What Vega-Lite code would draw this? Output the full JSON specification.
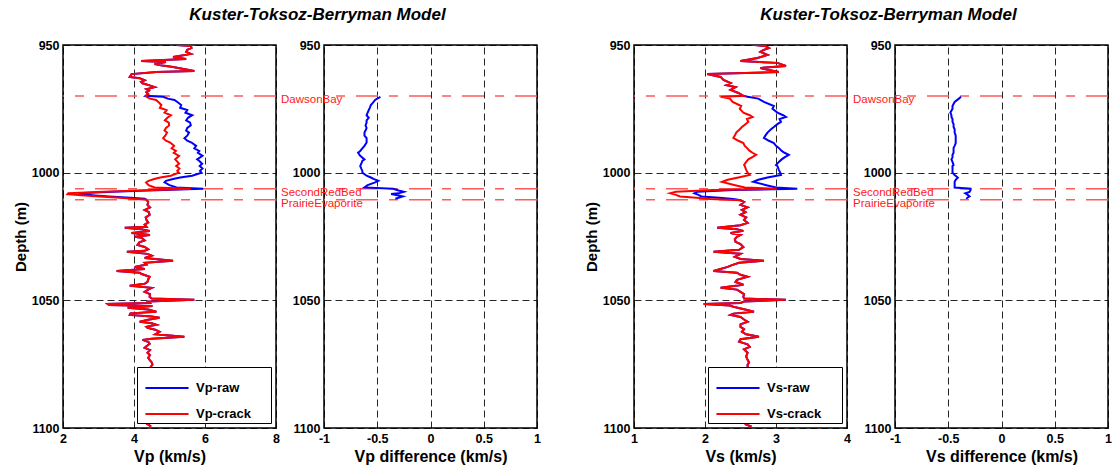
{
  "$schema": "https://vega.github.io/schema/vega-lite/v6.json",
  "padding": {"left": 12, "top": 5, "right": 0, "bottom": 0},
  "bounds": "flush",
  "spacing": 48,
  "config": {
    "font": "Liberation Sans",
    "view": {"stroke": "#000000", "strokeWidth": 1.5},
    "axis": {
      "labelFont": "Liberation Sans", "labelFontWeight": "bold", "labelFontSize": 12.5, "labelColor": "#000000",
      "titleFont": "Liberation Sans", "titleFontWeight": "bold", "titleFontSize": 15, "titleColor": "#000000",
      "domain": false, "ticks": false, "grid": true, "gridColor": "#000000", "gridDash": [7, 4], "gridWidth": 1, "gridOpacity": 0.85,
      "labelFlush": false, "labelPadding": 4
    },
    "axisY": {"titlePadding": 3, "format": "d"},
    "axisX": {"titlePadding": 4, "titleFontSize": 16},
    "legend": {
      "orient": "bottom-right", "offset": 5, "strokeColor": "#000000", "fillColor": "#ffffff", "padding": 2,
      "symbolType": "M-1.22,0H1.22", "symbolSize": 1250, "symbolStrokeWidth": 2, "symbolOffset": 9, "rowPadding": 0,
      "labelFont": "Liberation Sans", "labelFontSize": 13, "labelFontWeight": "bold", "labelColor": "#000000", "labelOffset": 10,
      "title": null
    },
    "title": {"font": "Liberation Sans", "fontSize": 17, "fontWeight": "bold", "fontStyle": "italic", "color": "#000000", "anchor": "middle", "frame": "group", "dx": 148, "offset": 15}
  },
  "datasets": {
    "tops": [
      {"top": "DawsonBay", "d": 970.0},
      {"top": "SecondRedBed", "d": 1006.3},
      {"top": "PrairieEvaporite", "d": 1010.6}
    ],
    "vp": [
      {"d": 950.0, "Vp-raw": 5.2, "Vp-crack": 5.2},
      {"d": 950.4, "Vp-raw": 5.6, "Vp-crack": 5.6},
      {"d": 951.2, "Vp-raw": 5.62, "Vp-crack": 5.62},
      {"d": 951.9, "Vp-raw": 5.5, "Vp-crack": 5.5},
      {"d": 952.7, "Vp-raw": 5.47, "Vp-crack": 5.47},
      {"d": 953.5, "Vp-raw": 5.6, "Vp-crack": 5.6},
      {"d": 954.1, "Vp-raw": 5.35, "Vp-crack": 5.35},
      {"d": 954.7, "Vp-raw": 5.1, "Vp-crack": 5.1},
      {"d": 955.5, "Vp-raw": 5.47, "Vp-crack": 5.47},
      {"d": 956.3, "Vp-raw": 4.2, "Vp-crack": 4.2},
      {"d": 956.7, "Vp-raw": 4.9, "Vp-crack": 4.9},
      {"d": 957.4, "Vp-raw": 4.58, "Vp-crack": 4.58},
      {"d": 958.0, "Vp-raw": 4.8, "Vp-crack": 4.8},
      {"d": 958.6, "Vp-raw": 5.1, "Vp-crack": 5.1},
      {"d": 959.4, "Vp-raw": 5.4, "Vp-crack": 5.4},
      {"d": 960.2, "Vp-raw": 5.7, "Vp-crack": 5.7},
      {"d": 960.6, "Vp-raw": 4.63, "Vp-crack": 4.63},
      {"d": 961.4, "Vp-raw": 3.93, "Vp-crack": 3.93},
      {"d": 962.5, "Vp-raw": 3.88, "Vp-crack": 3.88},
      {"d": 963.0, "Vp-raw": 4.16, "Vp-crack": 4.16},
      {"d": 963.8, "Vp-raw": 4.3, "Vp-crack": 4.3},
      {"d": 964.4, "Vp-raw": 4.2, "Vp-crack": 4.2},
      {"d": 965.0, "Vp-raw": 4.24, "Vp-crack": 4.24},
      {"d": 965.8, "Vp-raw": 4.44, "Vp-crack": 4.44},
      {"d": 966.5, "Vp-raw": 4.58, "Vp-crack": 4.58},
      {"d": 967.3, "Vp-raw": 4.35, "Vp-crack": 4.35},
      {"d": 967.9, "Vp-raw": 4.42, "Vp-crack": 4.42},
      {"d": 968.5, "Vp-raw": 4.35, "Vp-crack": 4.35},
      {"d": 969.2, "Vp-raw": 4.4, "Vp-crack": 4.4},
      {"d": 969.9, "Vp-raw": 4.33, "Vp-crack": 4.33},
      {"d": 970.3, "Vp-raw": 4.82, "Vp-crack": 4.35},
      {"d": 971.0, "Vp-raw": 4.95, "Vp-crack": 4.45},
      {"d": 971.5, "Vp-raw": 5.14, "Vp-crack": 4.62},
      {"d": 972.6, "Vp-raw": 5.25, "Vp-crack": 4.71},
      {"d": 973.5, "Vp-raw": 5.33, "Vp-crack": 4.77},
      {"d": 974.6, "Vp-raw": 5.3, "Vp-crack": 4.73},
      {"d": 975.5, "Vp-raw": 5.5, "Vp-crack": 4.92},
      {"d": 976.5, "Vp-raw": 5.45, "Vp-crack": 4.86},
      {"d": 977.5, "Vp-raw": 5.64, "Vp-crack": 5.04},
      {"d": 978.5, "Vp-raw": 5.52, "Vp-crack": 4.94},
      {"d": 979.5, "Vp-raw": 5.47, "Vp-crack": 4.87},
      {"d": 980.4, "Vp-raw": 5.58, "Vp-crack": 4.98},
      {"d": 981.5, "Vp-raw": 5.6, "Vp-crack": 4.99},
      {"d": 982.5, "Vp-raw": 5.5, "Vp-crack": 4.9},
      {"d": 983.5, "Vp-raw": 5.47, "Vp-crack": 4.86},
      {"d": 984.3, "Vp-raw": 5.55, "Vp-crack": 4.93},
      {"d": 985.5, "Vp-raw": 5.5, "Vp-crack": 4.88},
      {"d": 986.5, "Vp-raw": 5.42, "Vp-crack": 4.82},
      {"d": 987.5, "Vp-raw": 5.5, "Vp-crack": 4.9},
      {"d": 988.2, "Vp-raw": 5.62, "Vp-crack": 5.02},
      {"d": 989.5, "Vp-raw": 5.75, "Vp-crack": 5.13},
      {"d": 990.5, "Vp-raw": 5.7, "Vp-crack": 5.06},
      {"d": 991.5, "Vp-raw": 5.84, "Vp-crack": 5.18},
      {"d": 992.2, "Vp-raw": 5.8, "Vp-crack": 5.12},
      {"d": 993.4, "Vp-raw": 5.93, "Vp-crack": 5.27},
      {"d": 994.8, "Vp-raw": 5.78, "Vp-crack": 5.16},
      {"d": 995.4, "Vp-raw": 5.84, "Vp-crack": 5.2},
      {"d": 996.5, "Vp-raw": 5.92, "Vp-crack": 5.27},
      {"d": 997.4, "Vp-raw": 5.85, "Vp-crack": 5.19},
      {"d": 998.4, "Vp-raw": 5.93, "Vp-crack": 5.28},
      {"d": 999.3, "Vp-raw": 5.86, "Vp-crack": 5.22},
      {"d": 1000.0, "Vp-raw": 5.9, "Vp-crack": 5.26},
      {"d": 1001.2, "Vp-raw": 5.64, "Vp-crack": 5.04},
      {"d": 1001.9, "Vp-raw": 5.3, "Vp-crack": 4.74},
      {"d": 1002.5, "Vp-raw": 5.1, "Vp-crack": 4.57},
      {"d": 1003.2, "Vp-raw": 4.9, "Vp-crack": 4.41},
      {"d": 1003.8, "Vp-raw": 4.86, "Vp-crack": 4.34},
      {"d": 1004.9, "Vp-raw": 5.0, "Vp-crack": 4.41},
      {"d": 1005.8, "Vp-raw": 5.2, "Vp-crack": 4.58},
      {"d": 1006.3, "Vp-raw": 5.95, "Vp-crack": 5.6},
      {"d": 1007.0, "Vp-raw": 4.4, "Vp-crack": 4.1},
      {"d": 1007.5, "Vp-raw": 3.4, "Vp-crack": 3.15},
      {"d": 1008.1, "Vp-raw": 2.45, "Vp-crack": 2.15},
      {"d": 1008.4, "Vp-raw": 2.5, "Vp-crack": 2.13},
      {"d": 1008.9, "Vp-raw": 2.9, "Vp-crack": 2.6},
      {"d": 1009.3, "Vp-raw": 3.3, "Vp-crack": 3.04},
      {"d": 1009.8, "Vp-raw": 3.9, "Vp-crack": 3.6},
      {"d": 1010.2, "Vp-raw": 4.3, "Vp-crack": 3.97},
      {"d": 1010.6, "Vp-raw": 4.35, "Vp-crack": 4.35},
      {"d": 1011.5, "Vp-raw": 4.4, "Vp-crack": 4.4},
      {"d": 1012.6, "Vp-raw": 4.38, "Vp-crack": 4.38},
      {"d": 1013.6, "Vp-raw": 4.45, "Vp-crack": 4.45},
      {"d": 1014.6, "Vp-raw": 4.3, "Vp-crack": 4.3},
      {"d": 1015.5, "Vp-raw": 4.42, "Vp-crack": 4.42},
      {"d": 1016.5, "Vp-raw": 4.44, "Vp-crack": 4.44},
      {"d": 1017.5, "Vp-raw": 4.33, "Vp-crack": 4.33},
      {"d": 1018.5, "Vp-raw": 4.35, "Vp-crack": 4.35},
      {"d": 1019.5, "Vp-raw": 4.4, "Vp-crack": 4.4},
      {"d": 1020.4, "Vp-raw": 4.3, "Vp-crack": 4.3},
      {"d": 1021.2, "Vp-raw": 4.35, "Vp-crack": 4.35},
      {"d": 1021.6, "Vp-raw": 3.74, "Vp-crack": 3.74},
      {"d": 1022.2, "Vp-raw": 4.2, "Vp-crack": 4.2},
      {"d": 1022.8, "Vp-raw": 4.44, "Vp-crack": 4.44},
      {"d": 1023.6, "Vp-raw": 3.93, "Vp-crack": 3.93},
      {"d": 1024.4, "Vp-raw": 4.45, "Vp-crack": 4.45},
      {"d": 1025.1, "Vp-raw": 4.02, "Vp-crack": 4.02},
      {"d": 1025.5, "Vp-raw": 4.21, "Vp-crack": 4.21},
      {"d": 1026.5, "Vp-raw": 4.3, "Vp-crack": 4.3},
      {"d": 1027.3, "Vp-raw": 4.15, "Vp-crack": 4.15},
      {"d": 1028.3, "Vp-raw": 4.1, "Vp-crack": 4.1},
      {"d": 1029.1, "Vp-raw": 4.3, "Vp-crack": 4.3},
      {"d": 1030.0, "Vp-raw": 4.4, "Vp-crack": 4.4},
      {"d": 1030.6, "Vp-raw": 4.3, "Vp-crack": 4.3},
      {"d": 1031.0, "Vp-raw": 3.8, "Vp-crack": 3.8},
      {"d": 1031.8, "Vp-raw": 4.38, "Vp-crack": 4.38},
      {"d": 1032.5, "Vp-raw": 4.5, "Vp-crack": 4.5},
      {"d": 1033.4, "Vp-raw": 4.3, "Vp-crack": 4.3},
      {"d": 1034.5, "Vp-raw": 5.1, "Vp-crack": 5.1},
      {"d": 1035.3, "Vp-raw": 4.3, "Vp-crack": 4.3},
      {"d": 1036.0, "Vp-raw": 4.35, "Vp-crack": 4.35},
      {"d": 1036.9, "Vp-raw": 4.02, "Vp-crack": 4.02},
      {"d": 1037.7, "Vp-raw": 4.3, "Vp-crack": 4.3},
      {"d": 1038.5, "Vp-raw": 3.51, "Vp-crack": 3.51},
      {"d": 1039.2, "Vp-raw": 4.16, "Vp-crack": 4.16},
      {"d": 1039.6, "Vp-raw": 4.2, "Vp-crack": 4.2},
      {"d": 1040.8, "Vp-raw": 4.44, "Vp-crack": 4.44},
      {"d": 1041.8, "Vp-raw": 4.4, "Vp-crack": 4.4},
      {"d": 1042.8, "Vp-raw": 4.38, "Vp-crack": 4.38},
      {"d": 1043.5, "Vp-raw": 4.3, "Vp-crack": 4.3},
      {"d": 1044.3, "Vp-raw": 3.88, "Vp-crack": 3.88},
      {"d": 1045.1, "Vp-raw": 4.5, "Vp-crack": 4.5},
      {"d": 1045.8, "Vp-raw": 4.4, "Vp-crack": 4.4},
      {"d": 1046.7, "Vp-raw": 4.3, "Vp-crack": 4.3},
      {"d": 1047.6, "Vp-raw": 4.45, "Vp-crack": 4.45},
      {"d": 1048.6, "Vp-raw": 4.44, "Vp-crack": 4.44},
      {"d": 1049.3, "Vp-raw": 4.5, "Vp-crack": 4.5},
      {"d": 1049.8, "Vp-raw": 5.7, "Vp-crack": 5.7},
      {"d": 1050.5, "Vp-raw": 4.4, "Vp-crack": 4.4},
      {"d": 1051.0, "Vp-raw": 4.44, "Vp-crack": 4.44},
      {"d": 1051.4, "Vp-raw": 3.26, "Vp-crack": 3.26},
      {"d": 1051.8, "Vp-raw": 3.3, "Vp-crack": 3.3},
      {"d": 1052.2, "Vp-raw": 4.52, "Vp-crack": 4.52},
      {"d": 1052.9, "Vp-raw": 3.82, "Vp-crack": 3.82},
      {"d": 1053.6, "Vp-raw": 4.4, "Vp-crack": 4.4},
      {"d": 1054.5, "Vp-raw": 4.63, "Vp-crack": 4.63},
      {"d": 1055.1, "Vp-raw": 3.9, "Vp-crack": 3.9},
      {"d": 1055.7, "Vp-raw": 3.88, "Vp-crack": 3.88},
      {"d": 1056.3, "Vp-raw": 4.5, "Vp-crack": 4.5},
      {"d": 1056.8, "Vp-raw": 4.72, "Vp-crack": 4.72},
      {"d": 1057.6, "Vp-raw": 4.4, "Vp-crack": 4.4},
      {"d": 1058.4, "Vp-raw": 4.16, "Vp-crack": 4.16},
      {"d": 1059.0, "Vp-raw": 4.5, "Vp-crack": 4.5},
      {"d": 1059.6, "Vp-raw": 4.63, "Vp-crack": 4.63},
      {"d": 1060.4, "Vp-raw": 4.35, "Vp-crack": 4.35},
      {"d": 1060.8, "Vp-raw": 4.38, "Vp-crack": 4.38},
      {"d": 1061.5, "Vp-raw": 4.6, "Vp-crack": 4.6},
      {"d": 1062.3, "Vp-raw": 4.72, "Vp-crack": 4.72},
      {"d": 1063.3, "Vp-raw": 4.6, "Vp-crack": 4.6},
      {"d": 1064.3, "Vp-raw": 5.42, "Vp-crack": 5.42},
      {"d": 1065.0, "Vp-raw": 4.5, "Vp-crack": 4.5},
      {"d": 1065.5, "Vp-raw": 4.24, "Vp-crack": 4.24},
      {"d": 1066.2, "Vp-raw": 4.4, "Vp-crack": 4.4},
      {"d": 1067.0, "Vp-raw": 4.44, "Vp-crack": 4.44},
      {"d": 1068.0, "Vp-raw": 4.35, "Vp-crack": 4.35},
      {"d": 1068.6, "Vp-raw": 4.3, "Vp-crack": 4.3},
      {"d": 1069.5, "Vp-raw": 4.45, "Vp-crack": 4.45},
      {"d": 1070.5, "Vp-raw": 4.38, "Vp-crack": 4.38},
      {"d": 1071.5, "Vp-raw": 4.45, "Vp-crack": 4.45},
      {"d": 1072.5, "Vp-raw": 4.4, "Vp-crack": 4.4},
      {"d": 1073.3, "Vp-raw": 4.44, "Vp-crack": 4.44},
      {"d": 1074.3, "Vp-raw": 4.5, "Vp-crack": 4.5},
      {"d": 1075.2, "Vp-raw": 4.52, "Vp-crack": 4.52},
      {"d": 1076.5, "Vp-raw": 4.45, "Vp-crack": 4.45},
      {"d": 1078.0, "Vp-raw": 4.4, "Vp-crack": 4.4},
      {"d": 1081.0, "Vp-raw": 4.5, "Vp-crack": 4.5},
      {"d": 1084.0, "Vp-raw": 4.42, "Vp-crack": 4.42},
      {"d": 1087.0, "Vp-raw": 4.48, "Vp-crack": 4.48},
      {"d": 1090.0, "Vp-raw": 4.4, "Vp-crack": 4.4},
      {"d": 1093.0, "Vp-raw": 4.45, "Vp-crack": 4.45},
      {"d": 1096.0, "Vp-raw": 4.4, "Vp-crack": 4.4},
      {"d": 1097.8, "Vp-raw": 4.45, "Vp-crack": 4.45},
      {"d": 1098.5, "Vp-raw": 4.38, "Vp-crack": 4.38},
      {"d": 1099.2, "Vp-raw": 4.46, "Vp-crack": 4.46},
      {"d": 1100.0, "Vp-raw": 4.44, "Vp-crack": 4.44}
    ],
    "dvp": [
      {"d": 970.3, "dVp": -0.47}, {"d": 971.0, "dVp": -0.5}, {"d": 971.5, "dVp": -0.52}, {"d": 972.6, "dVp": -0.54},
      {"d": 973.5, "dVp": -0.56}, {"d": 974.6, "dVp": -0.57}, {"d": 975.5, "dVp": -0.58}, {"d": 976.5, "dVp": -0.59},
      {"d": 977.5, "dVp": -0.6}, {"d": 978.5, "dVp": -0.58}, {"d": 979.5, "dVp": -0.6}, {"d": 980.4, "dVp": -0.6},
      {"d": 981.5, "dVp": -0.61}, {"d": 982.5, "dVp": -0.6}, {"d": 983.5, "dVp": -0.61}, {"d": 984.3, "dVp": -0.62},
      {"d": 985.5, "dVp": -0.62}, {"d": 986.5, "dVp": -0.6}, {"d": 987.5, "dVp": -0.6}, {"d": 988.2, "dVp": -0.6},
      {"d": 989.5, "dVp": -0.62}, {"d": 990.5, "dVp": -0.64}, {"d": 991.5, "dVp": -0.66}, {"d": 992.2, "dVp": -0.68},
      {"d": 993.4, "dVp": -0.66}, {"d": 994.8, "dVp": -0.62}, {"d": 995.4, "dVp": -0.64}, {"d": 996.5, "dVp": -0.65},
      {"d": 997.4, "dVp": -0.66}, {"d": 998.4, "dVp": -0.65}, {"d": 999.3, "dVp": -0.64}, {"d": 1000.0, "dVp": -0.64},
      {"d": 1001.2, "dVp": -0.6}, {"d": 1001.9, "dVp": -0.56}, {"d": 1002.5, "dVp": -0.53}, {"d": 1003.2, "dVp": -0.49},
      {"d": 1003.8, "dVp": -0.52}, {"d": 1004.9, "dVp": -0.59}, {"d": 1005.8, "dVp": -0.62}, {"d": 1006.3, "dVp": -0.35},
      {"d": 1007.0, "dVp": -0.3}, {"d": 1007.5, "dVp": -0.25}, {"d": 1008.1, "dVp": -0.3}, {"d": 1008.4, "dVp": -0.37},
      {"d": 1008.9, "dVp": -0.3}, {"d": 1009.3, "dVp": -0.26}, {"d": 1009.8, "dVp": -0.3}, {"d": 1010.2, "dVp": -0.33}
    ],
    "vs": [
      {"d": 950.0, "Vs-raw": 2.7, "Vs-crack": 2.7},
      {"d": 950.4, "Vs-raw": 2.85, "Vs-crack": 2.85},
      {"d": 951.2, "Vs-raw": 2.9, "Vs-crack": 2.9},
      {"d": 952.0, "Vs-raw": 2.82, "Vs-crack": 2.82},
      {"d": 952.7, "Vs-raw": 2.78, "Vs-crack": 2.78},
      {"d": 953.9, "Vs-raw": 2.88, "Vs-crack": 2.88},
      {"d": 955.1, "Vs-raw": 2.74, "Vs-crack": 2.74},
      {"d": 956.3, "Vs-raw": 2.5, "Vs-crack": 2.5},
      {"d": 957.0, "Vs-raw": 3.02, "Vs-crack": 3.02},
      {"d": 958.2, "Vs-raw": 3.14, "Vs-crack": 3.14},
      {"d": 959.0, "Vs-raw": 2.78, "Vs-crack": 2.78},
      {"d": 959.8, "Vs-raw": 2.9, "Vs-crack": 2.9},
      {"d": 960.6, "Vs-raw": 3.04, "Vs-crack": 3.04},
      {"d": 961.4, "Vs-raw": 2.03, "Vs-crack": 2.03},
      {"d": 962.5, "Vs-raw": 2.22, "Vs-crack": 2.22},
      {"d": 963.7, "Vs-raw": 2.26, "Vs-crack": 2.26},
      {"d": 964.9, "Vs-raw": 2.36, "Vs-crack": 2.36},
      {"d": 965.7, "Vs-raw": 2.3, "Vs-crack": 2.3},
      {"d": 966.5, "Vs-raw": 2.43, "Vs-crack": 2.43},
      {"d": 967.6, "Vs-raw": 2.36, "Vs-crack": 2.36},
      {"d": 968.8, "Vs-raw": 2.47, "Vs-crack": 2.47},
      {"d": 969.9, "Vs-raw": 2.54, "Vs-crack": 2.54},
      {"d": 970.3, "Vs-raw": 2.6, "Vs-crack": 2.22},
      {"d": 971.0, "Vs-raw": 2.75, "Vs-crack": 2.35},
      {"d": 972.3, "Vs-raw": 2.83, "Vs-crack": 2.39},
      {"d": 973.9, "Vs-raw": 2.97, "Vs-crack": 2.51},
      {"d": 975.0, "Vs-raw": 2.95, "Vs-crack": 2.49},
      {"d": 976.5, "Vs-raw": 3.02, "Vs-crack": 2.54},
      {"d": 977.5, "Vs-raw": 3.1, "Vs-crack": 2.63},
      {"d": 978.2, "Vs-raw": 3.14, "Vs-crack": 2.67},
      {"d": 979.0, "Vs-raw": 3.05, "Vs-crack": 2.59},
      {"d": 980.1, "Vs-raw": 3.07, "Vs-crack": 2.61},
      {"d": 981.0, "Vs-raw": 3.02, "Vs-crack": 2.57},
      {"d": 982.1, "Vs-raw": 2.97, "Vs-crack": 2.52},
      {"d": 983.0, "Vs-raw": 2.93, "Vs-crack": 2.49},
      {"d": 984.3, "Vs-raw": 2.88, "Vs-crack": 2.44},
      {"d": 985.5, "Vs-raw": 2.85, "Vs-crack": 2.42},
      {"d": 986.4, "Vs-raw": 2.83, "Vs-crack": 2.4},
      {"d": 987.5, "Vs-raw": 2.9, "Vs-crack": 2.47},
      {"d": 988.4, "Vs-raw": 2.97, "Vs-crack": 2.54},
      {"d": 989.5, "Vs-raw": 3.0, "Vs-crack": 2.56},
      {"d": 990.3, "Vs-raw": 3.04, "Vs-crack": 2.59},
      {"d": 991.5, "Vs-raw": 3.08, "Vs-crack": 2.63},
      {"d": 992.2, "Vs-raw": 3.12, "Vs-crack": 2.67},
      {"d": 993.0, "Vs-raw": 3.18, "Vs-crack": 2.72},
      {"d": 994.0, "Vs-raw": 3.12, "Vs-crack": 2.66},
      {"d": 994.8, "Vs-raw": 3.08, "Vs-crack": 2.61},
      {"d": 995.8, "Vs-raw": 3.04, "Vs-crack": 2.58},
      {"d": 997.0, "Vs-raw": 3.0, "Vs-crack": 2.55},
      {"d": 997.4, "Vs-raw": 3.02, "Vs-crack": 2.56},
      {"d": 998.9, "Vs-raw": 3.04, "Vs-crack": 2.58},
      {"d": 1000.0, "Vs-raw": 3.06, "Vs-crack": 2.6},
      {"d": 1000.9, "Vs-raw": 3.07, "Vs-crack": 2.63},
      {"d": 1001.9, "Vs-raw": 2.88, "Vs-crack": 2.47},
      {"d": 1002.8, "Vs-raw": 2.75, "Vs-crack": 2.32},
      {"d": 1003.6, "Vs-raw": 2.68, "Vs-crack": 2.24},
      {"d": 1004.8, "Vs-raw": 2.85, "Vs-crack": 2.41},
      {"d": 1005.8, "Vs-raw": 3.0, "Vs-crack": 2.56},
      {"d": 1006.3, "Vs-raw": 3.3, "Vs-crack": 3.01},
      {"d": 1006.8, "Vs-raw": 2.4, "Vs-crack": 2.11},
      {"d": 1007.5, "Vs-raw": 1.89, "Vs-crack": 1.59},
      {"d": 1008.1, "Vs-raw": 1.85, "Vs-crack": 1.51},
      {"d": 1008.6, "Vs-raw": 1.9, "Vs-crack": 1.58},
      {"d": 1009.3, "Vs-raw": 1.95, "Vs-crack": 1.65},
      {"d": 1009.8, "Vs-raw": 2.2, "Vs-crack": 1.88},
      {"d": 1010.3, "Vs-raw": 2.4, "Vs-crack": 2.07},
      {"d": 1010.8, "Vs-raw": 2.5, "Vs-crack": 2.5},
      {"d": 1011.5, "Vs-raw": 2.55, "Vs-crack": 2.55},
      {"d": 1012.6, "Vs-raw": 2.5, "Vs-crack": 2.5},
      {"d": 1013.6, "Vs-raw": 2.6, "Vs-crack": 2.6},
      {"d": 1014.6, "Vs-raw": 2.52, "Vs-crack": 2.52},
      {"d": 1015.5, "Vs-raw": 2.57, "Vs-crack": 2.57},
      {"d": 1016.5, "Vs-raw": 2.5, "Vs-crack": 2.5},
      {"d": 1017.5, "Vs-raw": 2.58, "Vs-crack": 2.58},
      {"d": 1018.5, "Vs-raw": 2.55, "Vs-crack": 2.55},
      {"d": 1019.7, "Vs-raw": 2.6, "Vs-crack": 2.6},
      {"d": 1020.6, "Vs-raw": 2.5, "Vs-crack": 2.5},
      {"d": 1021.6, "Vs-raw": 2.17, "Vs-crack": 2.17},
      {"d": 1022.2, "Vs-raw": 2.45, "Vs-crack": 2.45},
      {"d": 1022.8, "Vs-raw": 2.54, "Vs-crack": 2.54},
      {"d": 1023.6, "Vs-raw": 2.36, "Vs-crack": 2.36},
      {"d": 1024.4, "Vs-raw": 2.5, "Vs-crack": 2.5},
      {"d": 1025.1, "Vs-raw": 2.45, "Vs-crack": 2.45},
      {"d": 1026.0, "Vs-raw": 2.42, "Vs-crack": 2.42},
      {"d": 1027.1, "Vs-raw": 2.43, "Vs-crack": 2.43},
      {"d": 1028.0, "Vs-raw": 2.5, "Vs-crack": 2.5},
      {"d": 1029.1, "Vs-raw": 2.54, "Vs-crack": 2.54},
      {"d": 1030.2, "Vs-raw": 2.48, "Vs-crack": 2.48},
      {"d": 1031.0, "Vs-raw": 2.12, "Vs-crack": 2.12},
      {"d": 1031.8, "Vs-raw": 2.5, "Vs-crack": 2.5},
      {"d": 1033.0, "Vs-raw": 2.42, "Vs-crack": 2.42},
      {"d": 1033.8, "Vs-raw": 2.5, "Vs-crack": 2.5},
      {"d": 1034.5, "Vs-raw": 2.83, "Vs-crack": 2.83},
      {"d": 1035.3, "Vs-raw": 2.48, "Vs-crack": 2.48},
      {"d": 1036.2, "Vs-raw": 2.38, "Vs-crack": 2.38},
      {"d": 1036.9, "Vs-raw": 2.32, "Vs-crack": 2.32},
      {"d": 1038.5, "Vs-raw": 2.12, "Vs-crack": 2.12},
      {"d": 1039.2, "Vs-raw": 2.45, "Vs-crack": 2.45},
      {"d": 1040.0, "Vs-raw": 2.5, "Vs-crack": 2.5},
      {"d": 1040.8, "Vs-raw": 2.6, "Vs-crack": 2.6},
      {"d": 1042.0, "Vs-raw": 2.45, "Vs-crack": 2.45},
      {"d": 1042.8, "Vs-raw": 2.43, "Vs-crack": 2.43},
      {"d": 1043.9, "Vs-raw": 2.54, "Vs-crack": 2.54},
      {"d": 1045.1, "Vs-raw": 2.22, "Vs-crack": 2.22},
      {"d": 1045.8, "Vs-raw": 2.45, "Vs-crack": 2.45},
      {"d": 1046.7, "Vs-raw": 2.5, "Vs-crack": 2.5},
      {"d": 1047.6, "Vs-raw": 2.55, "Vs-crack": 2.55},
      {"d": 1048.6, "Vs-raw": 2.54, "Vs-crack": 2.54},
      {"d": 1049.3, "Vs-raw": 2.55, "Vs-crack": 2.55},
      {"d": 1049.8, "Vs-raw": 3.14, "Vs-crack": 3.14},
      {"d": 1050.5, "Vs-raw": 2.55, "Vs-crack": 2.55},
      {"d": 1051.0, "Vs-raw": 2.5, "Vs-crack": 2.5},
      {"d": 1051.4, "Vs-raw": 1.98, "Vs-crack": 1.98},
      {"d": 1052.0, "Vs-raw": 2.35, "Vs-crack": 2.35},
      {"d": 1052.5, "Vs-raw": 2.4, "Vs-crack": 2.4},
      {"d": 1053.5, "Vs-raw": 2.55, "Vs-crack": 2.55},
      {"d": 1054.5, "Vs-raw": 2.69, "Vs-crack": 2.69},
      {"d": 1055.2, "Vs-raw": 2.4, "Vs-crack": 2.4},
      {"d": 1055.7, "Vs-raw": 2.36, "Vs-crack": 2.36},
      {"d": 1056.5, "Vs-raw": 2.5, "Vs-crack": 2.5},
      {"d": 1057.5, "Vs-raw": 2.55, "Vs-crack": 2.55},
      {"d": 1058.4, "Vs-raw": 2.6, "Vs-crack": 2.6},
      {"d": 1059.4, "Vs-raw": 2.5, "Vs-crack": 2.5},
      {"d": 1060.4, "Vs-raw": 2.5, "Vs-crack": 2.5},
      {"d": 1061.3, "Vs-raw": 2.55, "Vs-crack": 2.55},
      {"d": 1062.3, "Vs-raw": 2.52, "Vs-crack": 2.52},
      {"d": 1063.3, "Vs-raw": 2.58, "Vs-crack": 2.58},
      {"d": 1064.3, "Vs-raw": 2.76, "Vs-crack": 2.76},
      {"d": 1065.2, "Vs-raw": 2.5, "Vs-crack": 2.5},
      {"d": 1066.2, "Vs-raw": 2.48, "Vs-crack": 2.48},
      {"d": 1067.2, "Vs-raw": 2.6, "Vs-crack": 2.6},
      {"d": 1068.2, "Vs-raw": 2.63, "Vs-crack": 2.63},
      {"d": 1069.2, "Vs-raw": 2.55, "Vs-crack": 2.55},
      {"d": 1070.5, "Vs-raw": 2.6, "Vs-crack": 2.6},
      {"d": 1072.0, "Vs-raw": 2.58, "Vs-crack": 2.58},
      {"d": 1073.3, "Vs-raw": 2.6, "Vs-crack": 2.6},
      {"d": 1074.3, "Vs-raw": 2.62, "Vs-crack": 2.62},
      {"d": 1075.2, "Vs-raw": 2.6, "Vs-crack": 2.6},
      {"d": 1078.0, "Vs-raw": 2.6, "Vs-crack": 2.6},
      {"d": 1082.0, "Vs-raw": 2.62, "Vs-crack": 2.62},
      {"d": 1086.0, "Vs-raw": 2.58, "Vs-crack": 2.58},
      {"d": 1090.0, "Vs-raw": 2.62, "Vs-crack": 2.62},
      {"d": 1094.0, "Vs-raw": 2.6, "Vs-crack": 2.6},
      {"d": 1097.8, "Vs-raw": 2.62, "Vs-crack": 2.62},
      {"d": 1098.6, "Vs-raw": 2.58, "Vs-crack": 2.58},
      {"d": 1099.3, "Vs-raw": 2.64, "Vs-crack": 2.64},
      {"d": 1100.0, "Vs-raw": 2.62, "Vs-crack": 2.62}
    ],
    "dvs": [
      {"d": 970.3, "dVs": -0.38}, {"d": 971.0, "dVs": -0.4}, {"d": 972.3, "dVs": -0.44}, {"d": 973.9, "dVs": -0.46},
      {"d": 975.0, "dVs": -0.46}, {"d": 976.5, "dVs": -0.48}, {"d": 977.5, "dVs": -0.47}, {"d": 978.2, "dVs": -0.47},
      {"d": 979.0, "dVs": -0.46}, {"d": 980.1, "dVs": -0.46}, {"d": 981.0, "dVs": -0.45}, {"d": 982.1, "dVs": -0.45},
      {"d": 983.0, "dVs": -0.44}, {"d": 984.3, "dVs": -0.44}, {"d": 985.5, "dVs": -0.43}, {"d": 986.4, "dVs": -0.43},
      {"d": 987.5, "dVs": -0.43}, {"d": 988.4, "dVs": -0.43}, {"d": 989.5, "dVs": -0.44}, {"d": 990.3, "dVs": -0.45},
      {"d": 991.5, "dVs": -0.45}, {"d": 992.2, "dVs": -0.45}, {"d": 993.0, "dVs": -0.46}, {"d": 994.0, "dVs": -0.46},
      {"d": 994.8, "dVs": -0.47}, {"d": 995.8, "dVs": -0.46}, {"d": 997.0, "dVs": -0.45}, {"d": 997.4, "dVs": -0.46},
      {"d": 998.9, "dVs": -0.46}, {"d": 1000.0, "dVs": -0.46}, {"d": 1000.9, "dVs": -0.44}, {"d": 1001.9, "dVs": -0.41},
      {"d": 1002.8, "dVs": -0.43}, {"d": 1003.6, "dVs": -0.44}, {"d": 1004.8, "dVs": -0.44}, {"d": 1005.8, "dVs": -0.44},
      {"d": 1006.3, "dVs": -0.29}, {"d": 1006.8, "dVs": -0.29}, {"d": 1007.5, "dVs": -0.3}, {"d": 1008.1, "dVs": -0.34},
      {"d": 1008.6, "dVs": -0.32}, {"d": 1009.3, "dVs": -0.3}, {"d": 1009.8, "dVs": -0.32}, {"d": 1010.3, "dVs": -0.33}
    ]
  },
  "resolve": {"scale": {"color": "independent"}, "legend": {"color": "independent"}},
  "hconcat": [
    {
      "title": "Kuster-Toksoz-Berryman Model",
      "width": 213, "height": 383,
      "layer": [
        {
          "data": {"name": "tops"},
          "mark": {"type": "rule", "color": "#ff5a5a", "strokeWidth": 1.5, "strokeDash": [22, 11, 9, 11]},
          "encoding": {
            "y": {"field": "d", "type": "quantitative", "scale": {"domain": [950, 1100], "reverse": true, "nice": false, "zero": false},
                  "axis": {"values": [950, 1000, 1050, 1100], "title": "Depth (m)"}}
          }
        },
        {
          "data": {"name": "vp"},
          "mark": {"type": "line", "strokeWidth": 2, "clip": true},
          "encoding": {
            "x": {"field": "Vp-raw", "type": "quantitative", "scale": {"domain": [2, 8], "nice": false, "zero": false},
                  "axis": {"values": [2, 4, 6, 8], "title": "Vp (km/s)"}},
            "y": {"field": "d", "type": "quantitative"},
            "order": {"field": "d", "type": "quantitative"},
            "color": {"datum": "Vp-raw", "type": "nominal",
                      "scale": {"domain": ["Vp-raw", "Vp-crack"], "range": ["#0000ff", "#ff0000"]},
                      "legend": {"labelExpr": "datum.label + '\u00a0\u00a0\u00a0\u00a0\u00a0\u200b'"}}
          }
        },
        {
          "data": {"name": "vp"},
          "mark": {"type": "line", "strokeWidth": 2, "clip": true},
          "encoding": {
            "x": {"field": "Vp-crack", "type": "quantitative"},
            "y": {"field": "d", "type": "quantitative"},
            "order": {"field": "d", "type": "quantitative"},
            "color": {"datum": "Vp-crack", "type": "nominal"}
          }
        }
      ]
    },
    {
      "width": 213, "height": 383,
      "layer": [
        {
          "data": {"name": "tops"},
          "mark": {"type": "rule", "color": "#ff5a5a", "strokeWidth": 1.5, "strokeDash": [22, 11, 9, 11]},
          "encoding": {
            "y": {"field": "d", "type": "quantitative", "scale": {"domain": [950, 1100], "reverse": true, "nice": false, "zero": false},
                  "axis": {"values": [950, 1000, 1050, 1100], "title": null}}
          }
        },
        {
          "data": {"name": "tops"},
          "mark": {"type": "text", "align": "left", "baseline": "middle", "dx": -43, "dy": 4, "color": "#ff1a1a", "fontSize": 11.5, "font": "Liberation Sans"},
          "encoding": {
            "x": {"datum": -1, "type": "quantitative"},
            "y": {"field": "d", "type": "quantitative"},
            "text": {"field": "top"}
          }
        },
        {
          "data": {"name": "dvp"},
          "mark": {"type": "line", "strokeWidth": 2, "color": "#0000ff", "clip": true},
          "encoding": {
            "x": {"field": "dVp", "type": "quantitative", "scale": {"domain": [-1, 1], "nice": false, "zero": false},
                  "axis": {"values": [-1, -0.5, 0, 0.5, 1], "labelExpr": "'' + datum.value", "title": "Vp difference (km/s)"}},
            "y": {"field": "d", "type": "quantitative"},
            "order": {"field": "d", "type": "quantitative"}
          }
        }
      ]
    },
    {
      "width": 1, "height": 383,
      "view": {"stroke": null},
      "data": {"values": []},
      "mark": {"type": "point", "opacity": 0}
    },
    {
      "title": "Kuster-Toksoz-Berryman Model",
      "width": 213, "height": 383,
      "layer": [
        {
          "data": {"name": "tops"},
          "mark": {"type": "rule", "color": "#ff5a5a", "strokeWidth": 1.5, "strokeDash": [22, 11, 9, 11]},
          "encoding": {
            "y": {"field": "d", "type": "quantitative", "scale": {"domain": [950, 1100], "reverse": true, "nice": false, "zero": false},
                  "axis": {"values": [950, 1000, 1050, 1100], "title": "Depth (m)"}}
          }
        },
        {
          "data": {"name": "vs"},
          "mark": {"type": "line", "strokeWidth": 2, "clip": true},
          "encoding": {
            "x": {"field": "Vs-raw", "type": "quantitative", "scale": {"domain": [1, 4], "nice": false, "zero": false},
                  "axis": {"values": [1, 2, 3, 4], "labelExpr": "'' + datum.value", "title": "Vs (km/s)"}},
            "y": {"field": "d", "type": "quantitative"},
            "order": {"field": "d", "type": "quantitative"},
            "color": {"datum": "Vs-raw", "type": "nominal",
                      "scale": {"domain": ["Vs-raw", "Vs-crack"], "range": ["#0000ff", "#ff0000"]},
                      "legend": {"labelExpr": "datum.label + '\u00a0\u00a0\u00a0\u00a0\u00a0\u200b'"}}
          }
        },
        {
          "data": {"name": "vs"},
          "mark": {"type": "line", "strokeWidth": 2, "clip": true},
          "encoding": {
            "x": {"field": "Vs-crack", "type": "quantitative"},
            "y": {"field": "d", "type": "quantitative"},
            "order": {"field": "d", "type": "quantitative"},
            "color": {"datum": "Vs-crack", "type": "nominal"}
          }
        }
      ]
    },
    {
      "width": 213, "height": 383,
      "layer": [
        {
          "data": {"name": "tops"},
          "mark": {"type": "rule", "color": "#ff5a5a", "strokeWidth": 1.5, "strokeDash": [22, 11, 9, 11]},
          "encoding": {
            "y": {"field": "d", "type": "quantitative", "scale": {"domain": [950, 1100], "reverse": true, "nice": false, "zero": false},
                  "axis": {"values": [950, 1000, 1050, 1100], "title": null}}
          }
        },
        {
          "data": {"name": "tops"},
          "mark": {"type": "text", "align": "left", "baseline": "middle", "dx": -42, "dy": 4, "color": "#ff1a1a", "fontSize": 11.5, "font": "Liberation Sans"},
          "encoding": {
            "x": {"datum": -1, "type": "quantitative"},
            "y": {"field": "d", "type": "quantitative"},
            "text": {"field": "top"}
          }
        },
        {
          "data": {"name": "dvs"},
          "mark": {"type": "line", "strokeWidth": 2, "color": "#0000ff", "clip": true},
          "encoding": {
            "x": {"field": "dVs", "type": "quantitative", "scale": {"domain": [-1, 1], "nice": false, "zero": false},
                  "axis": {"values": [-1, -0.5, 0, 0.5, 1], "labelExpr": "'' + datum.value", "title": "Vs difference (km/s)"}},
            "y": {"field": "d", "type": "quantitative"},
            "order": {"field": "d", "type": "quantitative"}
          }
        }
      ]
    }
  ]
}
